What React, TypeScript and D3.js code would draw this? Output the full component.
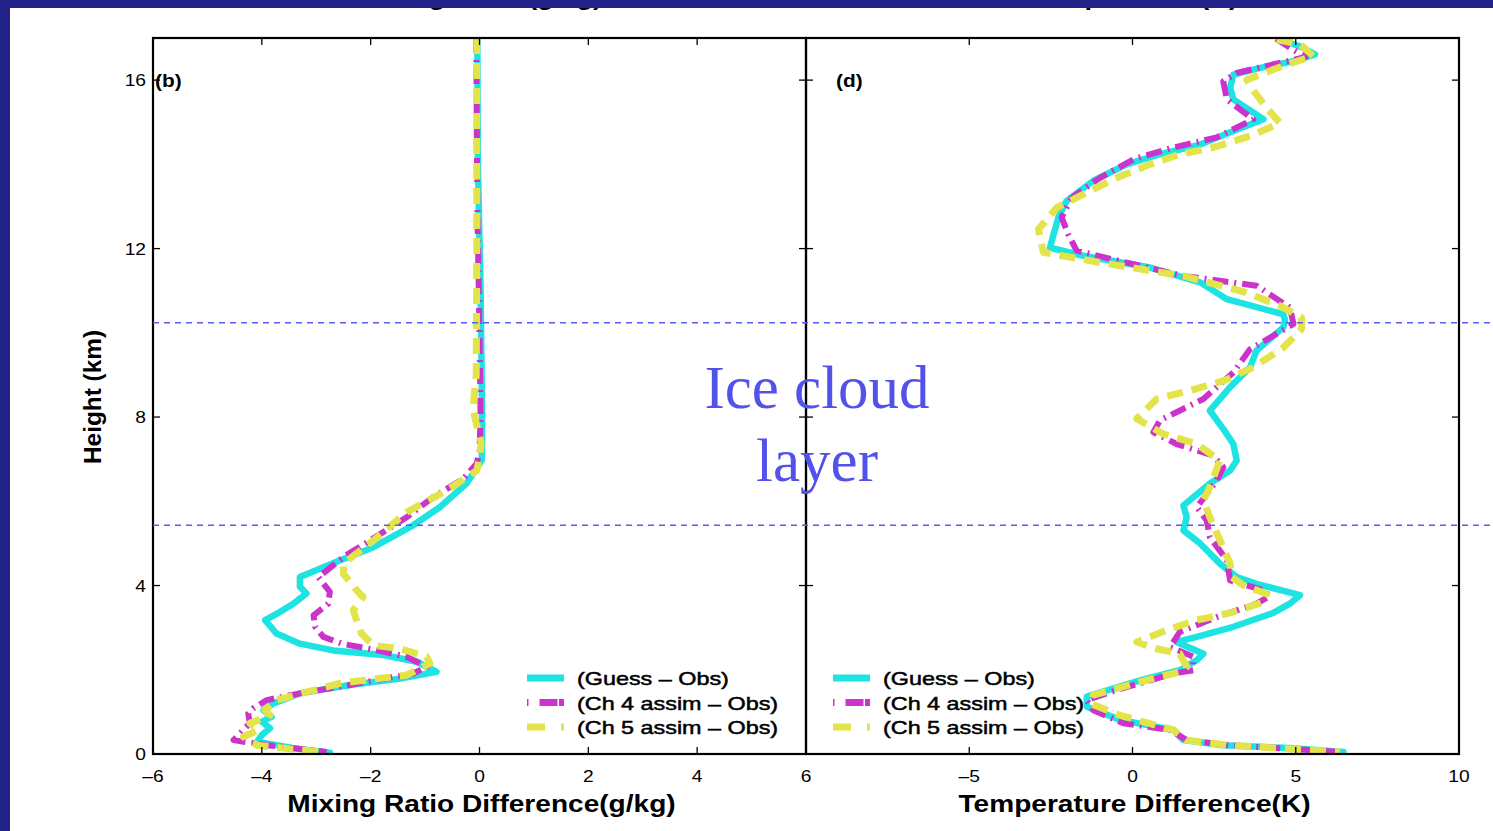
import React from 'react';
import * as d3 from 'd3';

// [difference, height km] pairs
const guessMix: [number, number][] = [
  [-0.04, 17], [-0.03, 14], [0.02, 11], [0.04, 9], [0.05, 7.5], [0.04, 6.97], [-0.24, 6.42], [-0.73, 5.86],
  [-1.22, 5.43], [-1.95, 4.91], [-2.56, 4.6], [-3.3, 4.2], [-3.3, 3.97], [-3.18, 3.81], [-3.42, 3.57],
  [-3.67, 3.37], [-3.94, 3.18], [-3.73, 2.86], [-3.3, 2.62], [-2.69, 2.46], [-1.77, 2.35], [-1.15, 2.19],
  [-0.79, 1.95], [-1.46, 1.79], [-2.38, 1.64], [-3.3, 1.44], [-3.79, 1.2], [-3.97, 1.04], [-3.82, 0.88],
  [-4.0, 0.77], [-3.85, 0.61], [-4.0, 0.45], [-4.09, 0.29], [-3.42, 0.14], [-2.75, 0.03],
];
const ch4Mix: [number, number][] = [
  [-0.06, 17], [-0.04, 13], [0.0, 10], [0.02, 8], [0.0, 7.2], [-0.05, 6.9], [-0.3, 6.53], [-0.85, 6.1],
  [-1.34, 5.62], [-2.01, 5.07], [-2.5, 4.68], [-2.69, 4.48], [-2.96, 4.2], [-2.75, 3.85], [-2.78, 3.57],
  [-3.05, 3.29], [-3.02, 3.02], [-2.87, 2.78], [-2.5, 2.61], [-1.95, 2.48], [-1.34, 2.31], [-0.97, 2.07],
  [-1.22, 1.91], [-2.38, 1.64], [-3.3, 1.44], [-3.91, 1.28], [-4.16, 1.08], [-4.25, 0.96], [-4.22, 0.73],
  [-4.52, 0.33], [-3.91, 0.21], [-2.81, 0.05],
];
const ch5Mix: [number, number][] = [
  [-0.05, 17], [-0.05, 12], [-0.06, 9], [-0.12, 8.2], [-0.05, 7.8], [0.03, 7.4], [0.01, 7.1], [-0.05, 6.73],
  [-0.6, 6.26], [-1.34, 5.74], [-1.95, 5.07], [-2.5, 4.52], [-2.5, 4.28], [-2.26, 3.89], [-2.14, 3.73],
  [-2.32, 3.41], [-2.26, 3.18], [-2.17, 2.86], [-1.95, 2.58], [-1.46, 2.5], [-0.97, 2.31], [-0.91, 2.15],
  [-1.34, 1.87], [-2.56, 1.68], [-3.73, 1.28], [-3.94, 1.04], [-3.85, 0.92], [-4.22, 0.73], [-4.06, 0.57],
  [-4.34, 0.41], [-4.09, 0.21], [-2.81, 0.03],
];

const guessTemp: [number, number][] = [
  [4.52, 16.96], [5.13, 16.8], [5.59, 16.61], [4.93, 16.45], [3.91, 16.29], [3.09, 16.13], [2.99, 15.82],
  [3.09, 15.54], [4.01, 15.07], [3.09, 14.79], [2.07, 14.47], [0.84, 14.24], [-0.18, 14.0], [-1.2, 13.61],
  [-2.02, 13.13], [-2.27, 12.74], [-2.53, 12.02], [-1.51, 11.83], [0.54, 11.55], [2.07, 11.2], [2.89, 10.8],
  [4.62, 10.44], [4.67, 10.3], [4.62, 10.13], [3.8, 9.58], [3.6, 9.18], [2.99, 8.71], [2.37, 8.15],
  [2.78, 7.72], [3.09, 7.36], [3.19, 6.97], [2.99, 6.73], [2.37, 6.42], [1.56, 5.9], [1.66, 5.62],
  [1.56, 5.31], [2.07, 5.0], [2.68, 4.52], [3.19, 4.2], [3.8, 4.04], [5.13, 3.77], [4.82, 3.57], [4.31, 3.35],
  [3.09, 3.02], [1.97, 2.78], [1.35, 2.66], [2.17, 2.38], [1.97, 2.23], [1.45, 1.99], [0.23, 1.75],
  [-1.4, 1.36], [-1.4, 1.12], [-0.38, 0.81], [1.25, 0.57], [1.56, 0.33], [2.78, 0.21], [4.82, 0.14], [6.46, 0.05],
];
const ch4Temp: [number, number][] = [
  [4.4, 16.98], [4.9, 16.73], [5.3, 16.55], [4.3, 16.37], [3.19, 16.17], [2.78, 15.97], [2.89, 15.54],
  [3.7, 15.07], [2.58, 14.64], [1.25, 14.4], [0.03, 14.12], [-1.0, 13.68], [-1.86, 13.21], [-2.17, 12.74],
  [-1.97, 12.34], [-1.71, 11.95], [0.02, 11.63], [1.56, 11.35], [3.8, 11.12], [4.82, 10.6], [4.93, 10.21],
  [3.6, 9.61], [3.09, 9.06], [2.17, 8.43], [0.84, 7.92], [0.64, 7.64], [1.35, 7.36], [2.47, 7.09],
  [2.78, 6.81], [2.58, 6.49], [1.97, 5.86], [2.27, 5.55], [2.37, 5.15], [2.89, 4.6], [2.99, 4.12],
  [4.01, 3.89], [4.21, 3.75], [3.8, 3.57], [2.58, 3.25], [1.45, 2.9], [1.15, 2.54], [1.86, 2.31],
  [1.86, 1.99], [1.25, 1.91], [-0.48, 1.52], [-1.4, 1.28], [-1.2, 1.04], [-0.28, 0.73], [1.15, 0.57],
  [1.66, 0.33], [2.89, 0.21], [6.36, 0.05],
];
const ch5Temp: [number, number][] = [
  [4.42, 16.96], [5.13, 16.85], [5.54, 16.57], [4.72, 16.37], [3.5, 16.01], [3.6, 15.86], [4.11, 15.34],
  [4.52, 14.98], [3.6, 14.67], [2.47, 14.4], [1.45, 14.24], [0.54, 14.0], [-0.48, 13.68], [-1.3, 13.37],
  [-2.32, 12.97], [-2.88, 12.46], [-2.73, 11.91], [-1.0, 11.67], [1.56, 11.35], [3.39, 10.98], [4.52, 10.64],
  [5.18, 10.36], [5.18, 10.09], [4.62, 9.65], [3.7, 9.18], [2.78, 8.86], [1.76, 8.63], [0.74, 8.43],
  [0.13, 7.96], [0.94, 7.6], [1.97, 7.36], [2.68, 6.97], [2.37, 6.34], [2.17, 6.02], [2.37, 5.62],
  [2.68, 5.07], [2.99, 4.52], [3.04, 4.2], [3.39, 4.01], [4.11, 3.8], [4.01, 3.61], [3.09, 3.37],
  [1.97, 3.18], [1.05, 2.94], [0.13, 2.66], [0.74, 2.5], [1.45, 2.38], [1.66, 2.07], [1.45, 1.95],
  [0.23, 1.71], [-1.2, 1.4], [-1.3, 1.2], [-0.38, 0.92], [1.25, 0.57], [1.66, 0.33], [2.89, 0.21], [6.36, 0.05],
];

const seriesNames = ['(Guess \u2013 Obs)', '(Ch 4 assim \u2013 Obs)', '(Ch 5 assim \u2013 Obs)'];
const heightTicks = [0, 4, 8, 12, 16];
const mixTicks = [-6, -4, -2, 0, 2, 4, 6];
const tempTicks = [-5, 0, 5, 10];
const cloudLayer = [5.43, 10.24];

const styles = [
  { color: '#1ee3e3', width: 6.5, dash: 'none', cap: 'round' },
  { color: '#cc33cc', width: 6, dash: '16,6,2,6', cap: 'butt' },
  { color: '#e3e34a', width: 7, dash: '16,9', cap: 'butt' },
];

const SANS = 'Liberation Sans, Arial, Helvetica, sans-serif';
const fmt = (v: number) => (v < 0 ? '\u2013' + Math.abs(v) : String(v));

const T = ({ x, y, s = 1, children, ...rest }: any) => (
  <text transform={`translate(${x},${y}) scale(${s},1)`} fontFamily={SANS} {...rest}>{children}</text>
);

const App = () => {
  const W = 1493, H = 831;
  const y = d3.scaleLinear().domain([0, 17]).range([754, 38]);
  const xMix = d3.scaleLinear().domain([-6, 6]).range([153, 806]);
  const xTemp = d3.scaleLinear().domain([-10, 10]).range([806, 1459]);
  const top = y(17), bot = y(0);

  const panels = [
    { id: 'mix', x: xMix, data: [guessMix, ch4Mix, ch5Mix], ticks: mixTicks, label: '(b)', labelX: 155,
      xLabel: 'Mixing Ratio Difference(g/kg)', title: 'Mixing Ratio (g/kg)', titleEnd: 602, legX: 527 },
    { id: 'temp', x: xTemp, data: [guessTemp, ch4Temp, ch5Temp], ticks: tempTicks, label: '(d)', labelX: 836,
      xLabel: 'Temperature Difference(K)', title: 'Temperature (K)', titleEnd: 1238, legX: 833 },
  ];

  return (
    <svg width={W} height={H} style={{ position: 'absolute', left: 0, top: 0, background: '#fff' }}>
      <defs>
        {panels.map(p => (
          <clipPath id={`clip-${p.id}`} key={p.id}>
            <rect x={p.x.range()[0]} y={top} width={p.x.range()[1] - p.x.range()[0]} height={bot - top} />
          </clipPath>
        ))}
      </defs>
      <rect width={W} height={H} fill="#fff" />

      {panels.map(p => {
        const [x0, x1] = p.x.range();
        const line = d3.line<[number, number]>().x(d => p.x(d[0])).y(d => y(d[1]));
        const mid = (x0 + x1) / 2;
        return (
          <g key={p.id}>
            {/* title, mostly hidden under the slide border */}
            <T x={p.titleEnd} y={5} s={1.13} fontSize={24} fontWeight="bold" textAnchor="end">{p.title}</T>

            <g clipPath={`url(#clip-${p.id})`}>
              {p.data.map((d, i) => (
                <path key={i} d={line(d) || ''} fill="none" stroke={styles[i].color} strokeWidth={styles[i].width}
                  strokeDasharray={styles[i].dash} strokeLinecap={styles[i].cap as any} strokeLinejoin="round" />
              ))}
            </g>

            {/* ticks */}
            {p.ticks.filter(t => p.x(t) > x0 + 1 && p.x(t) < x1 - 1).map(t => (
              <g key={t}>
                <line x1={p.x(t)} x2={p.x(t)} y1={bot} y2={bot - 7} stroke="#000" strokeWidth={1.3} />
                <line x1={p.x(t)} x2={p.x(t)} y1={top} y2={top + 7} stroke="#000" strokeWidth={1.3} />
              </g>
            ))}
            {p.ticks.map(t => (
              <T key={t} x={p.x(t)} y={782} s={1.2} fontSize={16} textAnchor="middle">{fmt(t)}</T>
            ))}
            {heightTicks.filter(h => h > 0).map(h => (
              <g key={h}>
                <line x1={x0} x2={x0 + 7} y1={y(h)} y2={y(h)} stroke="#000" strokeWidth={1.3} />
                <line x1={x1} x2={x1 - 7} y1={y(h)} y2={y(h)} stroke="#000" strokeWidth={1.3} />
              </g>
            ))}
            <rect x={x0} y={top} width={x1 - x0} height={bot - top} fill="none" stroke="#000" strokeWidth={2.2} />

            <T x={p.labelX} y={y(16) + 7} s={1.1} fontSize={19} fontWeight="bold">{p.label}</T>
            <T x={mid + 2} y={812} s={1.17} fontSize={24} fontWeight="bold" textAnchor="middle">{p.xLabel}</T>

            {/* legend */}
            {seriesNames.map((n, i) => {
              const ly = 678 + i * 24.5;
              return (
                <g key={n}>
                  <line x1={p.legX} x2={p.legX + 37} y1={ly} y2={ly} stroke={styles[i].color} strokeWidth={7}
                    strokeDasharray={i === 0 ? 'none' : i === 1 ? '1.5,11,18' : '18,16,3'} />
                  <T x={p.legX + 50} y={ly + 7} s={1.23} fontSize={19} stroke="#000" strokeWidth={0.5}>{n}</T>
                </g>
              );
            })}
          </g>
        );
      })}

      {heightTicks.map(h => (
        <T key={h} x={146} y={y(h) + 6} s={1.2} fontSize={16} textAnchor="end">{h}</T>
      ))}
      <T x={0} y={0} fontSize={23} fontWeight="bold" textAnchor="middle"
        transform={`translate(101,397) rotate(-90) scale(1.06,1)`}>Height (km)</T>

      {cloudLayer.map(h => (
        <line key={h} x1={xMix(-6)} x2={W} y1={y(h)} y2={y(h)} stroke="#5a5af5" strokeWidth={1.5} strokeDasharray="6,5" />
      ))}

      <text x={817} y={408} textAnchor="middle" fontFamily="Liberation Serif, Times New Roman, serif" fontSize={61} fill="#5252ea">Ice cloud</text>
      <text x={817} y={481} textAnchor="middle" fontFamily="Liberation Serif, Times New Roman, serif" fontSize={61} fill="#5252ea">layer</text>

      {/* slide border */}
      <rect x={0} y={0} width={W} height={8} fill="#222288" />
      <rect x={0} y={0} width={10} height={H} fill="#222288" />
    </svg>
  );
};

export default App;
